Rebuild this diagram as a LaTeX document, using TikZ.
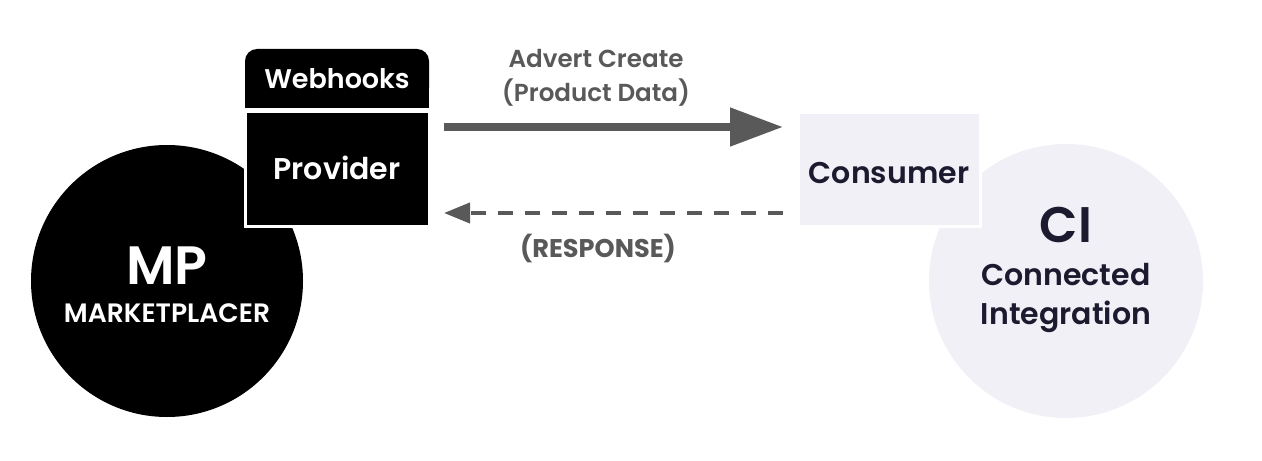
\documentclass[tikz,border=0pt]{standalone}
\usepackage{fontspec}
\setmainfont{Poppins}[BoldFont={Poppins SemiBold}]
\newfontfamily\pheavy{Poppins Bold}
\usetikzlibrary{arrows.meta}
\definecolor{lav}{HTML}{F1F0F6}
\definecolor{ink}{HTML}{1C1A2E}
\definecolor{arr}{HTML}{595959}
\tikzset{
  blk/.style={fill=black, draw=white, line width=1.5pt},
  lavbox/.style={fill=lav, draw=white, line width=1.5pt},
  wtxt/.style={text=white, font=\bfseries},
  dtxt/.style={text=ink, font=\bfseries, align=center},
  gtxt/.style={text=arr, font=\bfseries, align=center},
}
\begin{document}
\begin{tikzpicture}[x=0.5pt,y=-0.5pt]
\useasboundingbox (0,0) rectangle (1262,460);
% MP circle
\fill[black] (167,281) circle (136);
\node[wtxt] (mp) at (167,266) {\fontsize{27}{30}\selectfont MP};
\node[wtxt] (mpl) at (167,313) {\fontsize{13.3}{15}\selectfont MARKETPLACER};
% Webhooks header
\fill[black, rounded corners=6pt] (245,49) rectangle (429,100);
\fill[black] (245,80) rectangle (429,108);
\node[wtxt] (wh) at (337,79) {\fontsize{13.5}{15}\selectfont Webhooks};
% Provider box
\draw[blk] (245,112) rectangle (429,226);
\node[wtxt] (prov) at (337,168) {\fontsize{15}{18}\selectfont Provider};
% CI circle
\fill[lav] (1066,281) circle (137);
\node[dtxt] (ci) at (1066,225) {\fontsize{25}{28}\selectfont CI};
\node[dtxt] (cit1) at (1066,275) {\fontsize{15}{18}\selectfont Connected};
\node[dtxt] (cit2) at (1066,317) {\fontsize{15}{18}\selectfont Integration};
% Consumer box
\draw[lavbox] (798,113) rectangle (980,226);
\node[dtxt] (cons) at (889,173) {\fontsize{15}{18}\selectfont Consumer};
% arrow anchors
\coordinate (a1) at (444,127);
\coordinate (a2) at (783,127);
\coordinate (b1) at (783,213);
\coordinate (b2) at (444,213);
\draw[arr, line width=4pt, -{Triangle[length=26.5pt,width=18.5pt]}] (a1) -- (a2);
\draw[arr, line width=2pt, dash pattern=on 7.5pt off 6pt, -{Triangle[length=13pt,width=10pt]}] (b1) -- (b2);
\node[gtxt] (lab1) at (596,59) {\fontsize{12.3}{14}\selectfont Advert Create};
\node[gtxt] (lab1b) at (596,93) {\fontsize{12.3}{14}\selectfont (Product Data)};
\node[text=arr, font=\pheavy] (lab2) at (598,248) {\fontsize{12.8}{14}\selectfont (RESPONSE)};
\end{tikzpicture}
\end{document}
